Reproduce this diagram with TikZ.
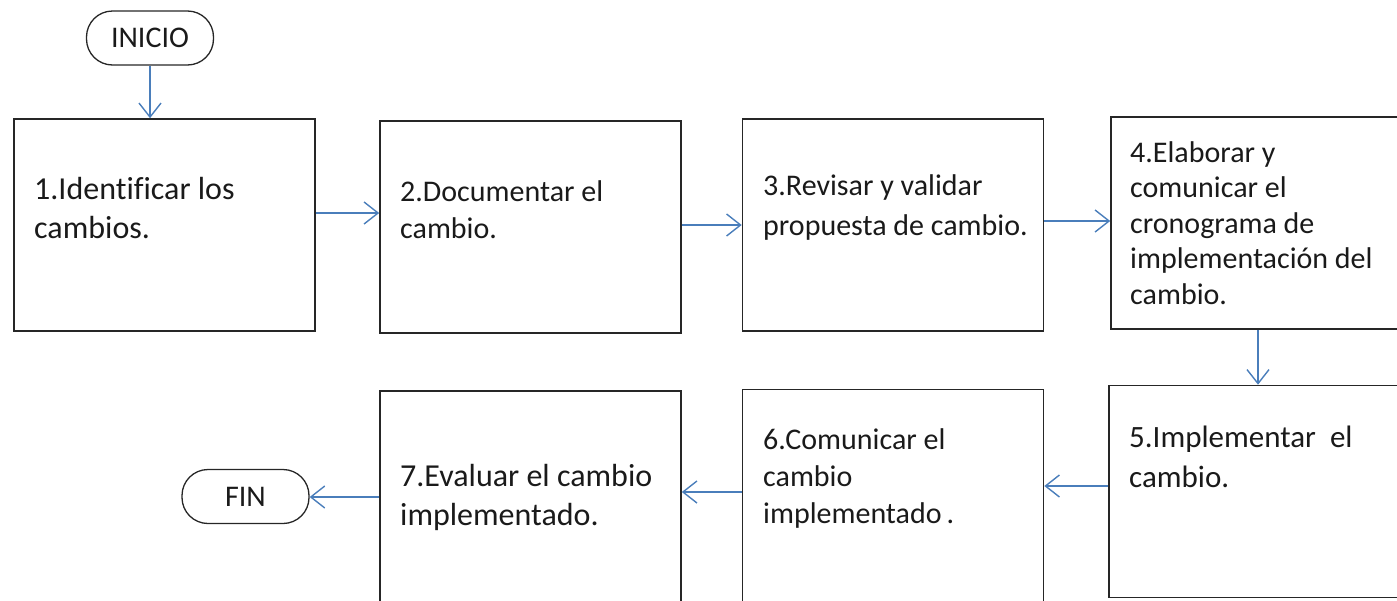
\documentclass[tikz,border=0pt]{standalone}
\usepackage{fontspec}
\setmainfont{Carlito}[Ligatures=NoCommon]
\usetikzlibrary{arrows.meta}

\definecolor{linkblue}{HTML}{4A7EBB}
\definecolor{inktext}{HTML}{1A1A1A}

\begin{document}
\begin{tikzpicture}[x=1pt, y=-1pt,
                    main node/.style={rectangle,draw=black!85,line width=1.6pt,minimum width=301pt,minimum height=212pt,inner sep=0pt},
                    end node/.style={rectangle,rounded corners=26pt,draw=black!85,line width=1.3pt,minimum width=127pt,minimum height=54pt,text=inktext,font=\fontsize{30}{34}\selectfont},
                    step text/.style={anchor=base west,align=left,inner sep=0pt,text=inktext},
                    link/.style={draw=linkblue,line width=1.4pt,-{Straight Barb[length=14pt,width=22pt]}}]

  \useasboundingbox (0,0) rectangle (1397,600);

  \node[end node] (inicio) at (150,38) {INICIO};
  \node[main node] (1) at (164.5,225) {};
  \node[main node] (2) at (530.5,227) {};
  \node[main node] (3) at (893,225) {};
  \node[main node] (4) at (1261.5,223) {};
  \node[main node] (5) at (1259.5,491.5) {};
  \node[main node] (6) at (893,495.5) {};
  \node[main node] (7) at (530.5,497) {};
  \node[end node] (fin) at (245.5,496.5) {FIN};

  % texto de cada paso (anclado en la linea base de la ultima fila)
  \node[step text,font=\fontsize{32}{39}\selectfont] (t1) at (34,238) {1.Identificar los\\cambios.};
  \node[step text,font=\fontsize{30}{37}\selectfont] (t2) at (400,238) {2.Documentar el\\cambio.};
  \node[step text,font=\fontsize{30}{40}\selectfont] (t3) at (763,235) {3.Revisar y validar\\propuesta de cambio.};
  \node[step text,font=\fontsize{30}{35.5}\selectfont] (t4) at (1130,304) {4.Elaborar y\\comunicar el\\cronograma de\\implementación del\\cambio.};
  \node[step text,font=\fontsize{31}{40}\selectfont] (t5) at (1129,487) {5.Implementar\ \ el\\cambio.};
  \node[step text,font=\fontsize{30}{37}\selectfont] (t6) at (763,523) {6.Comunicar el\\cambio\\implementado\,.};
  \node[step text,font=\fontsize{32}{39}\selectfont] (t7) at (400,525) {7.Evaluar el cambio\\implementado.};

  \draw[link] (inicio.south) -- (inicio.south |- 1.north);
  \draw[link] ([yshift=12pt]1.east) -- ([yshift=12pt]1.east -| 2.west);
  \draw[link] ([yshift=2pt]2.east) -- ([yshift=2pt]2.east -| 3.west);
  \draw[link] ([yshift=4pt]3.east) -- ([yshift=4pt]3.east -| 4.west);
  \draw[link] ([xshift=-3.5pt]4.south) -- ([xshift=-3.5pt]4.south |- 5.north);
  \draw[link] ([yshift=5.5pt]5.west) -- ([yshift=5.5pt]5.west -| 6.east);
  \draw[link] ([yshift=3.5pt]6.west) -- ([yshift=3.5pt]6.west -| 7.east);
  \draw[link] (7.west) -- (7.west -| fin.east);

\end{tikzpicture}
\end{document}
